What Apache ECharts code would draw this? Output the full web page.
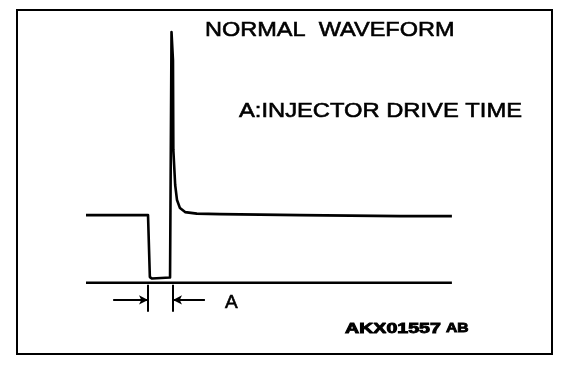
<!DOCTYPE html>
<html>
<head>
<meta charset="utf-8">
<style>
html,body{margin:0;padding:0;background:#fff;}
#c{width:576px;height:368px;}
</style>
<script src="https://cdn.jsdelivr.net/npm/echarts@6/dist/echarts.min.js"></script>
</head>
<body>
<div id="c"></div>
<script>
// Waveform (time in arbitrary units 0-100, voltage in arbitrary units)
const waveTime = [0, 16.9, 17.4, 18.0, 22.9, 23.3, 23.7, 23.8, 24.3, 24.8, 25.6, 27.0, 30.2, 36.5, 58.3, 85.6, 99.7];
const waveVolt = [27.0, 27.0, 2.3, 1.7, 2.1, 100, 88.8, 53.0, 39.0, 33.0, 29.8, 28.2, 27.6, 27.4, 27.0, 26.6, 26.6];
// Ground reference line
const baseTime = [0, 99.7];
const baseVolt = [0, 0];
// Injector drive time "A": start and end of the pulse
const driveStart = 16.9;
const driveEnd = 23.7;
const arrowLeftFrom = 7.4;
const arrowRightFrom = 32.4;
const arrowLevel = -6.8;
const tickTop = -0.8;
const tickBottom = -11.5;
const titleText = 'NORMAL  WAVEFORM';
const noteText = 'A:INJECTOR DRIVE TIME';
const markLabel = 'A';
const codeText = 'AKX01557';
const codeSuffix = 'AB';

const zip = (a, b) => a.map((v, i) => [v, b[i]]);
const chart = echarts.init(document.getElementById('c'), null, {renderer: 'canvas'});
const black = '#000';
const font = '"Liberation Sans", Arial, Helvetica, sans-serif';
const ink = {fill: black, stroke: black, lineWidth: 0.6, textAlign: 'left', textVerticalAlign: 'middle'};

chart.setOption({
  backgroundColor: '#fff',
  animation: false,
  grid: {left: 86, right: 123, top: 32, bottom: 35},
  xAxis: {type: 'value', min: 0, max: 100, show: false},
  yAxis: {type: 'value', min: -20, max: 100, show: false},
  series: [
    {
      type: 'line',
      data: zip(waveTime, waveVolt),
      showSymbol: false,
      clip: false,
      lineStyle: {color: black, width: 2.6, join: 'round'}
    },
    {
      type: 'line',
      data: zip(baseTime, baseVolt),
      showSymbol: false,
      lineStyle: {color: black, width: 2.5},
      markLine: {
        silent: true,
        label: {show: false},
        lineStyle: {color: black, width: 2, type: 'solid'},
        data: [
          [{coord: [driveStart, tickTop], symbol: 'none'}, {coord: [driveStart, tickBottom], symbol: 'none'}],
          [{coord: [driveEnd, tickTop], symbol: 'none'}, {coord: [driveEnd, tickBottom], symbol: 'none'}],
          [{coord: [arrowLeftFrom, arrowLevel], symbol: 'none'}, {coord: [driveStart, arrowLevel], symbol: 'arrow', symbolSize: [7, 9]}],
          [{coord: [arrowRightFrom, arrowLevel], symbol: 'none'}, {coord: [driveEnd, arrowLevel], symbol: 'arrow', symbolSize: [7, 9]}]
        ]
      }
    }
  ],
  graphic: [
    {type: 'rect', shape: {x: 17, y: 10, width: 535, height: 344}, style: {fill: 'none', stroke: black, lineWidth: 2}, silent: true},
    {type: 'text', x: 205, y: 30, scaleX: 1.12, style: Object.assign({text: titleText, font: '21px ' + font}, ink)},
    {type: 'text', x: 239, y: 111, scaleX: 1.13, style: Object.assign({text: noteText, font: '21px ' + font}, ink)},
    {type: 'text', x: 225, y: 303, style: Object.assign({text: markLabel, font: '19px ' + font}, ink)},
    {type: 'text', x: 345, y: 329, scaleX: 1.4, style: Object.assign({text: codeText, font: 'bold 14px ' + font}, ink, {lineWidth: 0.9})},
    {type: 'text', x: 446, y: 328, scaleX: 1.2, style: Object.assign({text: codeSuffix, font: 'bold 13px ' + font}, ink, {lineWidth: 0.9})}
  ]
});
</script>
</body>
</html>
